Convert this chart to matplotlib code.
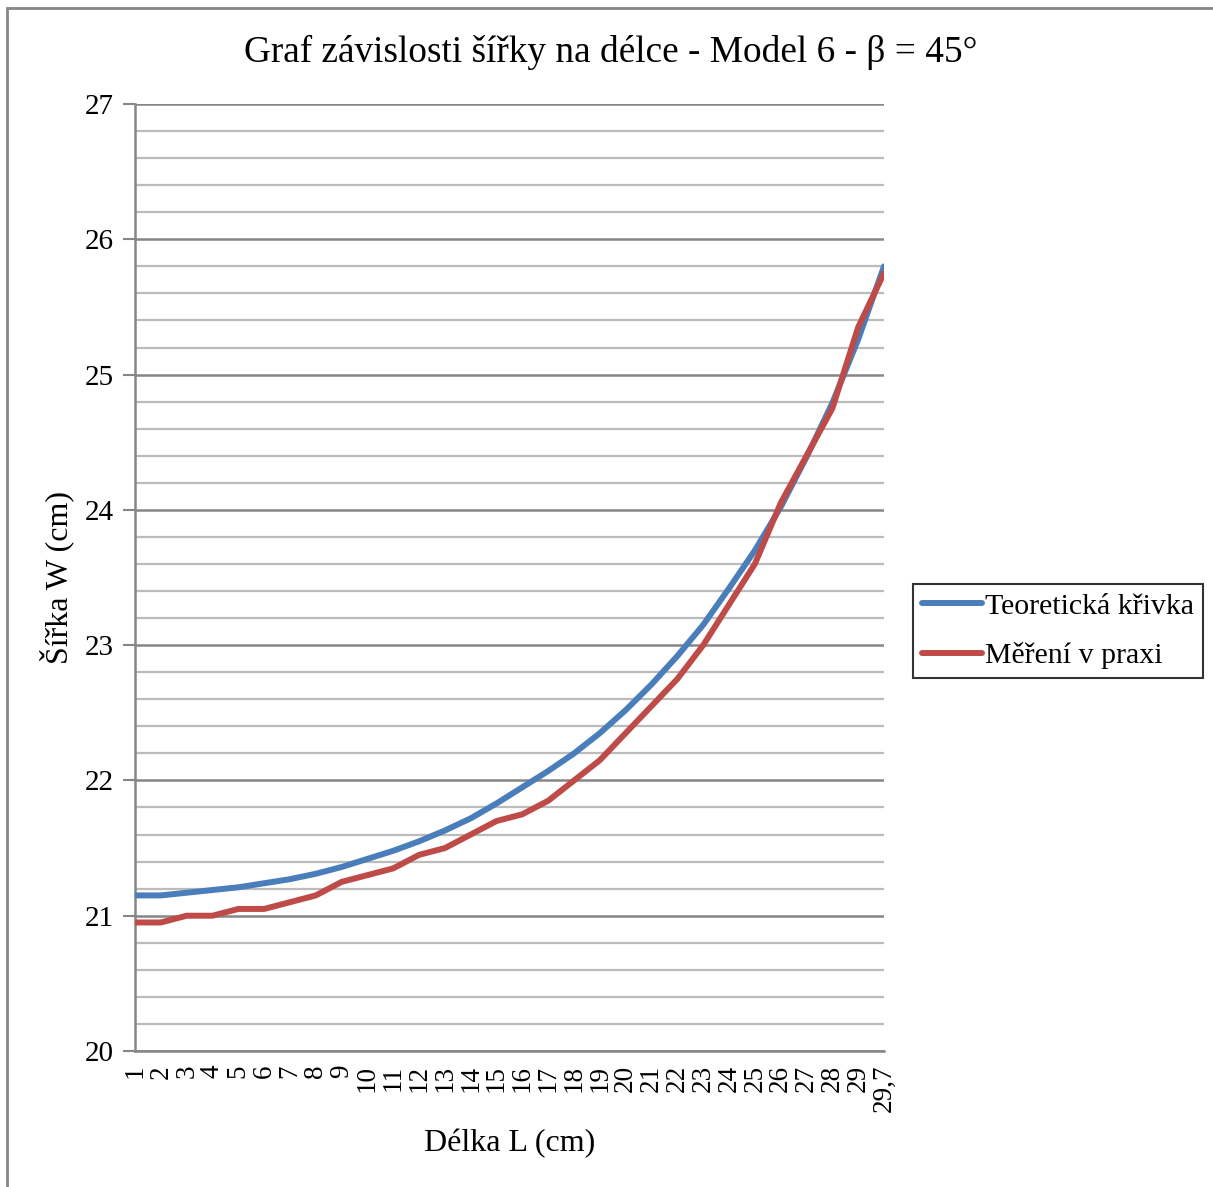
import numpy as np
import matplotlib
matplotlib.use("Agg")
import matplotlib.pyplot as plt
from matplotlib.patches import Rectangle

plt.rcParams['font.family'] = ['Liberation Serif', 'DejaVu Serif']

# delka L (cm) - category labels on the x axis
delka = [str(i) for i in range(1, 30)] + ["29,7"]

# sirka W (cm)
teorie = [21.15, 21.15, 21.17, 21.19, 21.21, 21.24, 21.27, 21.31, 21.36, 21.42,
          21.48, 21.55, 21.63, 21.72, 21.83, 21.95, 22.07, 22.20, 22.35, 22.52,
          22.71, 22.92, 23.15, 23.42, 23.70, 24.02, 24.39, 24.79, 25.26, 25.80]
mereni = [20.95, 20.95, 21.00, 21.00, 21.05, 21.05, 21.10, 21.15, 21.25, 21.30,
          21.35, 21.45, 21.50, 21.60, 21.70, 21.75, 21.85, 22.00, 22.15, 22.35,
          22.55, 22.75, 23.00, 23.30, 23.60, 24.05, 24.40, 24.75, 25.35, 25.75]

W, H = 1213, 1187
fig = plt.figure(figsize=(W / 100, H / 100), dpi=100)

# outer chart frame (runs off the right and bottom edge)
fig.patches.append(Rectangle((7 / W, -0.1), 1.2, 1.1 - 8 / H, transform=fig.transFigure,
                             fill=False, edgecolor="#868686", linewidth=2))

ax = fig.add_axes([135 / W, 1 - 1051 / H, (884 - 135) / W, (1051 - 104) / H])

x = np.arange(len(delka))
ax.plot(x, teorie, color="#4A7EBB", linewidth=4.3, label="Teoretická křivka",
        solid_capstyle="round", zorder=3)
ax.plot(x, mereni, color="#BE4B48", linewidth=4.3, label="Měření v praxi",
        solid_capstyle="round", zorder=3)

ax.set_xlim(0, len(delka) - 1)
ax.set_ylim(20, 27)
ax.set_xticks(x)
ax.set_xticklabels(delka, rotation=90, fontsize=19.5)
ax.set_yticks(np.arange(20, 28, 1))
ax.set_yticks(np.arange(20, 27.01, 0.2), minor=True)
ax.tick_params(axis="y", which="major", labelsize=21, length=9, width=1.5,
               color="#868686", pad=6)
ax.tick_params(axis="y", which="minor", length=0)
ax.tick_params(axis="x", length=0, pad=10)

ax.grid(True, axis="y", which="minor", color="#BBBBBB", linewidth=1.6, zorder=1)
ax.grid(True, axis="y", which="major", color="#868686", linewidth=1.8, zorder=1)

for s in ["top", "right"]:
    ax.spines[s].set_visible(False)
for s in ["left", "bottom"]:
    ax.spines[s].set_color("#868686")
    ax.spines[s].set_linewidth(1.8)

ax.set_xlabel("Délka L (cm)", fontsize=23, labelpad=12)
ax.set_ylabel("Šířka W (cm)", fontsize=23, labelpad=8)

fig.text(611 / W, 1 - 52 / H, "Graf závislosti šířky na délce - Model 6 - β = 45°",
         fontsize=26.8, ha="center", va="center")

leg = fig.legend(loc="upper left", bbox_to_anchor=(913 / W, 1 - 584 / H),
                 fontsize=21.5, frameon=True, fancybox=False, handlelength=2.0,
                 handletextpad=0.1, borderpad=0.3, labelspacing=0.75,
                 borderaxespad=0)
leg.get_frame().set_edgecolor("black")
leg.get_frame().set_linewidth(1.5)

fig.savefig("out.png", dpi=100)
